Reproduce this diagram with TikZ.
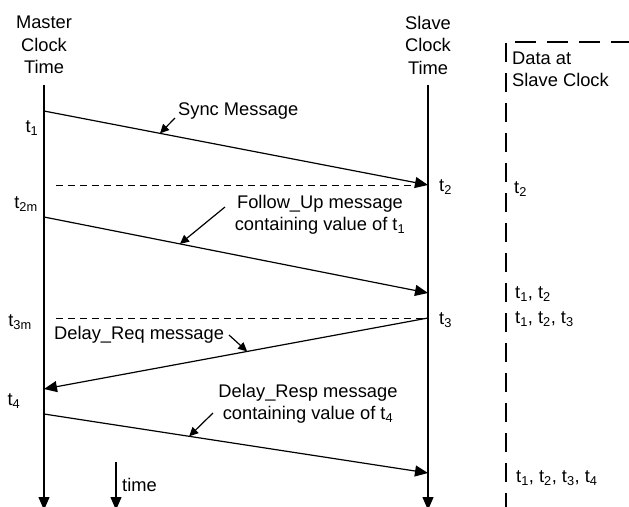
\documentclass[tikz,border=0pt]{standalone}
\usepackage{fontspec}
\setmainfont{Liberation Sans}
\usetikzlibrary{arrows.meta,calc}
\tikzset{
  txt/.style={inner sep=0pt, font=\fontsize{18.3}{22.5}\selectfont, align=center},
  lifeline/.style={draw, line width=1.2pt, -{Triangle[length=13pt,width=11pt]}},
  msg/.style={draw, line width=1.2pt, -{Triangle[length=13pt,width=11pt]}},
  pointer/.style={draw, line width=1.2pt, -{Triangle[length=9pt,width=8.5pt]}},
  sync/.style={draw, line width=1pt, dash pattern=on 7pt off 5pt},
  databox/.style={draw, line width=2.8pt, dash pattern=on 19pt off 11pt},
}
\newcommand{\xmaster}{44}
\newcommand{\xslave}{428}
\newcommand{\xdata}{506}
\newcommand{\tsub}[1]{\textsubscript{#1}}

\begin{document}
\begin{tikzpicture}[x=1pt, y=-1pt]
  \useasboundingbox (0,0) rectangle (629,506);

  % --- clock titles ---------------------------------------------------------
  \node[txt] (mtitle) at (\xmaster,45) {Master\\Clock\\Time};
  \node[txt] (stitle) at (\xslave,45) {Slave\\Clock\\Time};
  \node[txt, anchor=west, align=left] (dtitle) at (512,69.5) {Data at\\Slave Clock};

  % --- time lines -----------------------------------------------------------
  \coordinate (mtop) at (\xmaster,85);
  \coordinate (mbot) at (\xmaster,510);
  \coordinate (stop) at (\xslave,85);
  \coordinate (sbot) at (\xslave,510);
  \draw[lifeline] (mtop) -- (mbot);
  \draw[lifeline] (stop) -- (sbot);

  % --- data column ----------------------------------------------------------
  \coordinate (dtop) at (\xdata,43);
  \coordinate (dbot) at (\xdata,510);
  \coordinate (dleft) at (515,42);
  \coordinate (dright) at (640,42);
  \draw[databox] (dtop) -- (dbot);
  \draw[databox, dash pattern=on 21pt off 11pt] (dleft) -- (dright);

  % --- message end points ---------------------------------------------------
  \coordinate (m1) at (\xmaster,111);
  \coordinate (s1) at (\xslave,185);
  \coordinate (m2) at (\xmaster,217);
  \coordinate (s2) at (\xslave,293);
  \coordinate (s3) at (\xslave,318);
  \coordinate (m3) at (\xmaster,389);
  \coordinate (m4) at (\xmaster,414);
  \coordinate (s4) at (\xslave,473);
  \coordinate (d1) at (56,185);
  \coordinate (d3) at (56,318);

  % --- messages -------------------------------------------------------------
  \draw[msg] (m1) -- (s1);
  \draw[sync] (d1) -- (s1);
  \draw[msg] (m2) -- (s2);
  \draw[sync] (d3) -- (s3);
  \draw[msg] (s3) -- (m3);
  \draw[msg] (m4) -- (s4);

  % --- message labels -------------------------------------------------------
  \node[txt, anchor=west] (lsync) at (178,111) {Sync Message};
  \node[txt] (lfollow) at (320,215) {Follow\_Up message\\containing value of t\tsub{1}};
  \node[txt, anchor=west] (lreq) at (54,335) {Delay\_Req message};
  \node[txt] (lresp) at (308,404) {Delay\_Resp message\\containing value of t\tsub{4}};

  \coordinate (p1) at (175,118);
  \coordinate (p2) at (225,207);
  \coordinate (p3) at (229,335);
  \coordinate (p4) at (213,413);
  \draw[pointer] (p1) -- ($(m1)!0.302!(s1)$);
  \draw[pointer] (p2) -- ($(m2)!0.354!(s2)$);
  \draw[pointer] (p3) -- ($(s3)!0.471!(m3)$);
  \draw[pointer] (p4) -- ($(m4)!0.378!(s4)$);

  % --- time stamps ----------------------------------------------------------
  \node[txt] (t1) at (32,128) {t\tsub{1}};
  \node[txt] (t2m) at (26,204) {t\tsub{2m}};
  \node[txt] (t3m) at (20,322) {t\tsub{3m}};
  \node[txt] (t4) at (14,401) {t\tsub{4}};
  \node[txt, anchor=west] (t2) at (439,187) {t\tsub{2}};
  \node[txt, anchor=west] (t3) at (439,320) {t\tsub{3}};

  \node[txt, anchor=west] (data1) at (514,189) {t\tsub{2}};
  \node[txt, anchor=west] (data2) at (515,294) {t\tsub{1}, t\tsub{2}};
  \node[txt, anchor=west] (data3) at (515,319) {t\tsub{1}, t\tsub{2}, t\tsub{3}};
  \node[txt, anchor=west] (data4) at (516,478) {t\tsub{1}, t\tsub{2}, t\tsub{3}, t\tsub{4}};

  % --- time axis ------------------------------------------------------------
  \coordinate (ttop) at (116,462);
  \coordinate (tbot) at (116,510);
  \draw[lifeline] (ttop) -- (tbot);
  \node[txt, anchor=west] (ltime) at (122,485) {time};

\end{tikzpicture}
\end{document}
